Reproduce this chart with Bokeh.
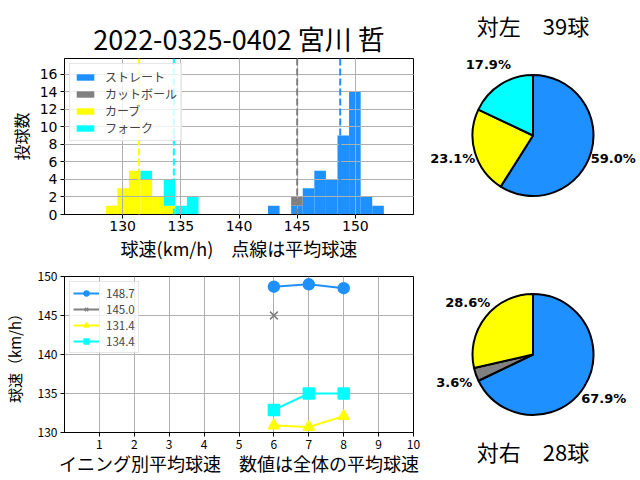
import math
from bokeh.plotting import figure
from bokeh.layouts import row, column
from bokeh.models import Range1d, FixedTicker, Span
from bokeh.embed import file_html
from bokeh.resources import INLINE
from bokeh.core.properties import value

# ---------------- data ----------------
pitch_names = ["ストレート", "カットボール", "カーブ", "フォーク"]
pitch_colors = ["#1E90FF", "#808080", "#FFFF00", "#00FFFF"]

bin_first_edge = 128.55
bin_last_edge = 152.45
bin_count = 24
straight_counts = [0] * 14 + [1, 0, 1, 3, 5, 4, 9, 14, 2, 1]
cut_counts = [0] * 16 + [1] + [0] * 7
curve_counts = [1, 3, 5, 4, 2, 1] + [0] * 18
fork_counts = [0, 0, 0, 1, 0, 3, 1, 2] + [0] * 16
mean_speeds = [148.7, 145.0, 131.4, 134.4]

straight_innings = [6, 7, 8]
straight_speeds = [148.7, 149.0, 148.5]
cut_innings = [6]
cut_speeds = [145.0]
curve_innings = [6, 7, 8]
curve_speeds = [130.9, 130.7, 132.1]
fork_innings = [6, 7, 8]
fork_speeds = [132.9, 135.0, 135.0]

vs_left_counts = [23, 0, 9, 7]
vs_right_counts = [19, 1, 8, 0]

hist_xticks = [130, 135, 140, 145, 150]
hist_yticks = [0, 2, 4, 6, 8, 10, 12, 14, 16]
inning_ticks = [1, 2, 3, 4, 5, 6, 7, 8, 9, 10]
speed_ticks = [130, 135, 140, 145, 150]

JP = "Noto Sans CJK JP"
SANS = "DejaVu Sans"

# ---------------- layout sizes ----------------
W_L, W_R = 420, 220
H_TOP, H_BOT = 264, 216


def style_axes(p, tick_font, tick_size):
    for ax in (p.xaxis, p.yaxis):
        ax.axis_line_color = "black"
        ax.axis_line_width = 1
        ax.major_tick_line_color = "black"
        ax.major_tick_out = 4
        ax.major_tick_in = 0
        ax.minor_tick_line_color = None
        ax.major_label_text_font = tick_font
        ax.major_label_text_font_size = tick_size
        ax.major_label_text_color = "black"
        ax.major_label_standoff = 3
        ax.axis_label_text_font = JP
        ax.axis_label_text_font_style = "normal"
        ax.axis_label_text_color = "black"
    p.grid.grid_line_color = "#b0b0b0"
    p.grid.grid_line_width = 1
    p.outline_line_color = "black"
    p.outline_line_width = 1


# ---------------- histogram ----------------
ph = figure(width=W_L, height=H_TOP, x_range=Range1d(125, 155), y_range=Range1d(0, 17.8),
            output_backend="svg", toolbar_location=None,
            min_border_left=64, min_border_right=7, min_border_top=58, min_border_bottom=50)
ph.title.text = "2022-0325-0402 宮川 哲"
ph.title.align = "center"
ph.title.text_font = JP
ph.title.text_font_size = "27px"
ph.title.text_font_style = "normal"
ph.title.text_color = "black"
ph.title.standoff = 2
style_axes(ph, SANS, "14px")
ph.xaxis.major_label_standoff = 2
ph.xaxis.ticker = FixedTicker(ticks=hist_xticks)
ph.yaxis.ticker = FixedTicker(ticks=hist_yticks)
ph.xaxis.axis_label = "球速(km/h)　点線は平均球速"
ph.xaxis.axis_label_text_font_size = "18px"
ph.xaxis.axis_label_standoff = 1
ph.yaxis.axis_label = "投球数"
ph.yaxis.axis_label_text_font_size = "16px"
ph.yaxis.axis_label_standoff = 4
ph.grid.level = "annotation"

for m, c in zip(mean_speeds, pitch_colors):
    ph.add_layout(Span(location=m, dimension="height", line_color=c, line_width=2,
                       line_dash="7 3"))

width = (bin_last_edge - bin_first_edge) / bin_count
lefts = [bin_first_edge + i * width for i in range(bin_count)]
rights = [l + width for l in lefts]
bottom = [0.0] * bin_count
for name, counts, c in zip(pitch_names,
                           [straight_counts, cut_counts, curve_counts, fork_counts],
                           pitch_colors):
    top = [b + v for b, v in zip(bottom, counts)]
    ph.quad(left=lefts, right=rights, bottom=bottom, top=top, fill_color=c,
            line_color=None, legend_label=name)
    bottom = top

lg = ph.legend[0]
lg.location = "top_left"
lg.margin = 5
lg.padding = 4
lg.spacing = 0
lg.label_text_font = JP
lg.label_text_font_size = "12px"
lg.label_height = 14
lg.glyph_height = 8
lg.glyph_width = 22
lg.label_standoff = 9
lg.border_line_color = "#cccccc"
lg.background_fill_alpha = 0.8

# ---------------- inning line chart ----------------
pl = figure(width=W_L, height=H_BOT, x_range=Range1d(0, 10), y_range=Range1d(130, 150),
            output_backend="svg", toolbar_location=None,
            min_border_left=64, min_border_right=7, min_border_top=12, min_border_bottom=48)
style_axes(pl, JP, "12px")
pl.xaxis.ticker = FixedTicker(ticks=inning_ticks)
pl.yaxis.ticker = FixedTicker(ticks=speed_ticks)
pl.xaxis.axis_label = "イニング別平均球速　数値は全体の平均球速"
pl.xaxis.axis_label_text_font_size = "18px"
pl.xaxis.axis_label_standoff = -2
pl.yaxis.axis_label = "球速（km/h）"
pl.yaxis.axis_label_text_font_size = "15px"
pl.yaxis.axis_label_standoff = 10

series = [
    (straight_innings, straight_speeds, "circle", mean_speeds[0], pitch_colors[0]),
    (cut_innings, cut_speeds, "x", mean_speeds[1], pitch_colors[1]),
    (curve_innings, curve_speeds, "triangle", mean_speeds[2], pitch_colors[2]),
    (fork_innings, fork_speeds, "square", mean_speeds[3], pitch_colors[3]),
]
for xs, ys, mk, mean, c in series:
    lab = f"{mean:.1f}"
    pl.line(xs, ys, line_color=c, line_width=2, legend_label=lab)
    pl.scatter(xs, ys, marker=mk, size=11, fill_color=c, line_color=c,
               line_width=1.5, legend_label=lab)

ll = pl.legend[0]
ll.location = "top_left"
ll.margin = 5
ll.padding = 3
ll.spacing = 0
ll.label_text_font = JP
ll.label_text_font_size = "11.5px"
ll.label_height = 12
ll.glyph_height = 12
ll.glyph_width = 26
ll.label_standoff = 7
ll.border_line_color = "#cccccc"
ll.background_fill_alpha = 0.8


# ---------------- pies ----------------
def make_pie(counts, h, cy, title, ty):
    p = figure(width=W_R, height=h, x_range=Range1d(0, W_R), y_range=Range1d(0, h),
               output_backend="svg", toolbar_location=None, x_axis_type=None,
               y_axis_type=None, min_border=0)
    p.outline_line_color = None
    p.grid.visible = False
    cx, r, d = 112.5, 60.5, 83.5
    total = sum(counts)
    cum = 0.0
    starts, ends, cols, lx, ly, labs = [], [], [], [], [], []
    for cnt, c in zip(counts, pitch_colors):
        if cnt == 0:
            continue
        frac = cnt / total
        a0 = math.pi / 2 - 2 * math.pi * cum
        a1 = math.pi / 2 - 2 * math.pi * (cum + frac)
        starts.append(a0)
        ends.append(a1)
        cols.append(c)
        mid = (a0 + a1) / 2
        lx.append(cx + d * math.cos(mid))
        ly.append(cy + d * math.sin(mid))
        labs.append(f"{frac * 100:.1f}%")
        cum += frac
    p.wedge(x=cx, y=cy, radius=r, start_angle=starts, end_angle=ends, direction="clock",
            fill_color=cols, line_color="black", line_width=2)
    p.text(x=lx, y=ly, text=labs, text_align="center", text_baseline="middle",
           text_font=value(SANS), text_font_style="bold", text_font_size="13px",
           text_color="black")
    p.text(x=[cx], y=[ty], text=[title], text_align="center", text_baseline="middle",
           text_font=value(JP), text_font_size="22px", text_color="black")
    return p


pie_left = make_pie(vs_left_counts, H_TOP, 129, f"対左　{sum(vs_left_counts)}球", 240)
pie_right = make_pie(vs_right_counts, H_BOT, 126, f"対右　{sum(vs_right_counts)}球", 30)

layout = row(column(ph, pl), column(pie_left, pie_right))
open("out.html", "w").write(file_html(layout, INLINE))
